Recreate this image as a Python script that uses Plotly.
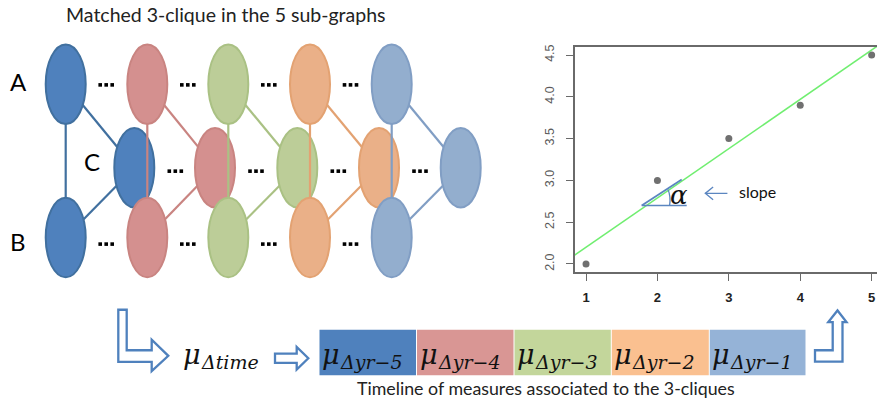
import numpy as np
import plotly.graph_objects as go

# ---------------- data ----------------
title_text = "Matched 3-clique in the 5 sub-graphs"
caption_text = "Timeline of measures associated to the 3-cliques"
node_labels = ["A", "B", "C"]
subgraph_fill = ["#4F81BD", "#D4908F", "#BCCD98", "#EAB088", "#93AECE"]
subgraph_line = ["#41709F", "#C98481", "#AAC184", "#E3A272", "#819EC4"]
box_fill = ["#4F81BD", "#D99694", "#C3D69B", "#FAC090", "#95B3D7"]
box_labels = ["yr−5", "yr−4", "yr−3", "yr−2", "yr−1"]
years = [1, 2, 3, 4, 5]
measure = [2.0, 3.0, 3.5, 3.9, 4.5]
ytick_vals = [2.0, 2.5, 3.0, 3.5, 4.0, 4.5]

# layout geometry (pixels of the 877x405 page)
W, H = 877, 405
colA = [65.7, 147.3, 228.3, 310.0, 391.7]
colC = [134.3, 215.0, 297.3, 379.0, 460.7]
yA, yB, yC = 82.7, 236.7, 166.5
rx, ry = 20, 40
box_edges = [319, 416.5, 514, 611.3, 709.3, 806]
box_top, box_bot = 329.3, 375

fig = go.Figure()
fig.add_trace(go.Scatter(x=[None], y=[None], xaxis="x", yaxis="y",
                         showlegend=False, hoverinfo="skip"))

shapes = []
annotations = []

# ---------- graph (left) ----------
for i in range(5):
    lc = subgraph_line[i]
    fc = subgraph_fill[i]
    xa, xc = colA[i], colC[i]
    for (x0, y0, x1, y1) in [(xa, yA, xa, yB), (xa, yA, xc, yC), (xa, yB, xc, yC)]:
        shapes.append(dict(type="line", xref="x", yref="y", x0=x0, y0=y0, x1=x1, y1=y1,
                           line=dict(color=lc, width=2.2)))
    for (cx, cy) in [(xa, yA), (xa, yB), (xc, yC)]:
        shapes.append(dict(type="circle", xref="x", yref="y",
                           x0=cx - rx, x1=cx + rx, y0=cy - ry, y1=cy + ry,
                           fillcolor=fc, line=dict(color=lc, width=2)))

# ellipsis dots between sub-graphs
dx, dy = [], []
for i in range(4):
    centers = [(colA[i] + 40.5, 83.3), (colA[i] + 40.5, 243.3), (colC[i] + 41, 170.0)]
    for (cx, cy) in centers:
        for off in (-6, 0, 6):
            dx.append(cx + off)
            dy.append(cy)
fig.add_trace(go.Scatter(x=dx, y=dy, mode="markers", xaxis="x", yaxis="y",
                         marker=dict(symbol="square", size=3.6, color="black", line=dict(width=0)),
                         showlegend=False, hoverinfo="skip", cliponaxis=False))

label_font = dict(size=24, color="black", family="Lato")
annotations.append(dict(x=18, y=80, xref="x", yref="y", text=node_labels[0], showarrow=False, font=label_font))
annotations.append(dict(x=18, y=241, xref="x", yref="y", text=node_labels[1], showarrow=False, font=label_font))
annotations.append(dict(x=92, y=160, xref="x", yref="y", text=node_labels[2], showarrow=False, font=label_font))

annotations.append(dict(x=225, y=13, xref="x", yref="y", text=title_text, showarrow=False,
                        font=dict(size=19.5, color="#222222", family="Lato")))

# ---------- bottom timeline ----------
arrow_col = "#4F81BD"
p1 = [(118.3, 309.3), (126.7, 309.3), (126.7, 350), (151.7, 350), (151.7, 339.3),
      (168.3, 355.6), (151.7, 371), (151.7, 361.7), (118.3, 361.7)]
p2 = [(275, 353.3), (296.7, 353.3), (296.7, 346.7), (308.3, 358), (296.7, 369.3),
      (296.7, 362.7), (275, 362.7)]
p3 = [(815, 350), (832.7, 350), (832.7, 321.7), (828.3, 321.7), (837.5, 310),
      (846.5, 321.7), (842.5, 321.7), (842.5, 361.5), (815, 361.5)]
for p in (p1, p2, p3):
    path = "M " + " L ".join(f"{x},{y}" for x, y in p) + " Z"
    shapes.append(dict(type="path", xref="x", yref="y", path=path, fillcolor="white",
                       line=dict(color=arrow_col, width=2.3)))

mu_font = dict(size=27, color="#111111", family="DejaVu Serif", style="italic")
sub_font = dict(size=19, color="#111111", family="DejaVu Serif", style="italic")


def add_mu(x_left, sub):
    annotations.append(dict(x=x_left, y=354, xref="x", yref="y", xanchor="left", yanchor="middle",
                            text="μ", showarrow=False, font=mu_font))
    annotations.append(dict(x=x_left + 18, y=362, xref="x", yref="y", xanchor="left",
                            yanchor="middle", text=sub, showarrow=False, font=sub_font))


add_mu(181, "Δtime")
for i in range(5):
    shapes.append(dict(type="rect", xref="x", yref="y",
                       x0=box_edges[i] + 0.5, x1=box_edges[i + 1] - 0.5, y0=box_top, y1=box_bot,
                       fillcolor=box_fill[i], line=dict(width=0)))
    add_mu(box_edges[i] + 1, "Δ" + box_labels[i])

annotations.append(dict(x=546, y=388, xref="x", yref="y", text=caption_text, showarrow=False,
                        font=dict(size=17.8, color="#222222", family="Lato")))

# ---------- scatter (right) ----------
fig.add_trace(go.Scatter(x=years, y=measure, mode="markers", xaxis="x2", yaxis="y2",
                         marker=dict(color="#707070", size=7), showlegend=False, hoverinfo="skip"))
slope, intercept = np.polyfit(years, measure, 1)
fx = [0.84, 5.2]
fig.add_trace(go.Scatter(x=fx, y=[intercept + slope * v for v in fx], mode="lines",
                         xaxis="x2", yaxis="y2", line=dict(color="#70EE70", width=1.6),
                         showlegend=False, hoverinfo="skip"))

tri_col = "#5B86C0"
tx0, ty0, tx1 = 1.78, 2.70, 2.41
shapes.append(dict(type="line", xref="x2", yref="y2", x0=tx0, y0=ty0, x1=tx1, y1=ty0,
                   line=dict(color=tri_col, width=1.6)))
shapes.append(dict(type="line", xref="x2", yref="y2", x0=tx0, y0=ty0, x1=2.34, y1=3.01,
                   line=dict(color=tri_col, width=1.8)))
shapes.append(dict(type="path", xref="x2", yref="y2", path="M 2.17,2.70 Q 2.19,2.80 2.15,2.89",
                   line=dict(color=tri_col, width=1.3)))
annotations.append(dict(x=2.30, y=2.82, xref="x2", yref="y2", text="α", showarrow=False,
                        font=dict(size=26, color="#111111", family="DejaVu Serif", style="italic")))
# open-chevron arrow
shapes.append(dict(type="line", xref="x2", yref="y2", x0=2.67, y0=2.845, x1=2.98, y1=2.845,
                   line=dict(color=tri_col, width=1.3)))
shapes.append(dict(type="path", xref="x2", yref="y2",
                   path="M 2.78,2.92 L 2.67,2.845 L 2.78,2.77",
                   line=dict(color=tri_col, width=1.3)))
annotations.append(dict(x=3.12, y=2.87, xref="x2", yref="y2", xanchor="left", text="slope",
                        showarrow=False, font=dict(size=16, color="#111111", family="Lato")))

fig.update_layout(
    width=W, height=H, margin=dict(l=0, r=0, t=0, b=0),
    paper_bgcolor="white", plot_bgcolor="rgba(0,0,0,0)",
    xaxis=dict(range=[0, W], domain=[0, 1], visible=False, fixedrange=True),
    yaxis=dict(range=[H, 0], domain=[0, 1], visible=False, fixedrange=True),
    xaxis2=dict(range=[0.84, 5.075], domain=[574.6 / W, 1], anchor="y2",
                showgrid=False, zeroline=False, showline=True, mirror=True,
                linecolor="#6A6A6A", linewidth=1.5, ticks="outside", ticklen=7,
                tickcolor="#6A6A6A", tickwidth=1.3, tickvals=years, ticklabelstandoff=5,
                tickfont=dict(size=13, color="#222222", family="Arial", weight="bold")),
    yaxis2=dict(range=[1.9, 4.6], domain=[133.3 / H, 360.1 / H], anchor="x2",
                showgrid=False, zeroline=False, showline=True, mirror=False,
                linecolor="#6A6A6A", linewidth=1.5, ticks="outside", ticklen=7,
                tickcolor="#6A6A6A", tickwidth=1.3, tickvals=ytick_vals, ticklabelstandoff=7,
                ticktext=[f"{v:.1f}" for v in ytick_vals], tickangle=-90,
                tickfont=dict(size=12.5, color="#5A5A5A", family="Arial")),
    shapes=shapes, annotations=annotations,
)

fig.write_html("out.html", config={"displayModeBar": False},
               post_script="document.body.style.margin='0';")
